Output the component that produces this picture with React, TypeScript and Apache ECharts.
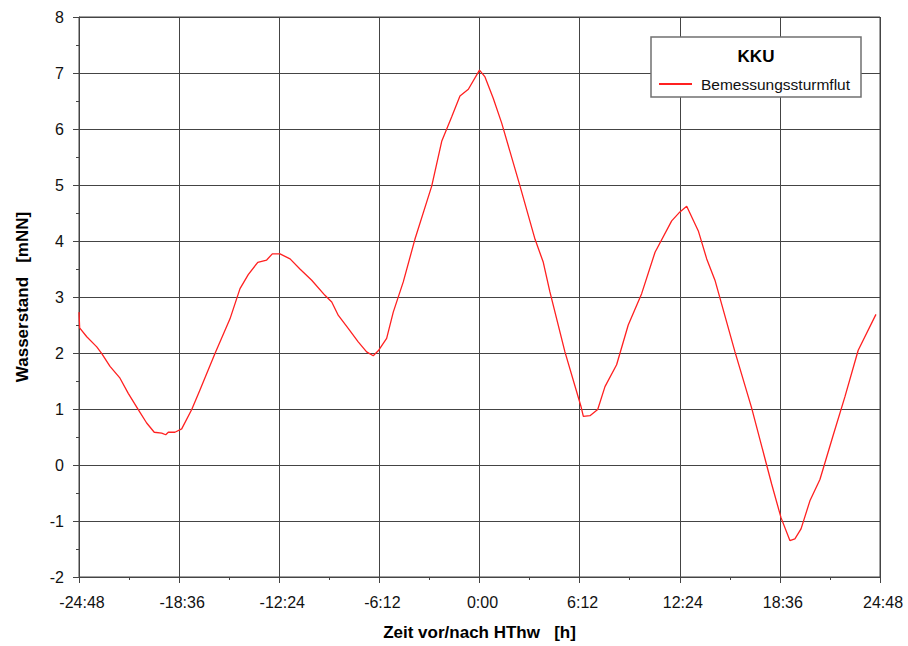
import React, { useEffect, useRef } from "react";
import * as echarts from "echarts";

// Time relative to high water (hours) and water level (m NN)
const hours: number[] = [
  -24.8, -24.76, -24.32, -23.7, -23.39, -22.88, -22.26, -21.75, -21.13, -20.61,
  -20.14, -19.68, -19.43, -19.27, -18.86, -18.44, -17.82, -17.31, -16.38, -15.45,
  -14.83, -14.32, -13.73, -13.18, -12.83, -12.35, -11.73, -11.12, -10.39, -9.57,
  -9.15, -8.74, -8.13, -7.51, -6.99, -6.58, -6.27, -5.75, -5.34, -4.72,
  -4.0, -2.96, -2.34, -1.72, -1.21, -0.69, 0.0, 0.34, 0.85, 1.37,
  2.51, 3.44, 3.95, 4.36, 5.29, 6.28, 6.43, 6.84, 7.32, 7.77,
  8.49, 9.21, 10.04, 10.87, 11.9, 12.41, 12.83, 13.55, 14.07, 14.58,
  15.82, 16.85, 18.09, 18.67, 19.22, 19.53, 19.91, 20.46, 21.08, 21.91,
  22.63, 23.45, 24.55,
];
const waterLevel: number[] = [
  2.73, 2.45, 2.29, 2.11, 1.99, 1.76, 1.55, 1.28, 0.99, 0.75,
  0.585, 0.57, 0.54, 0.585, 0.585, 0.645, 0.99, 1.34, 1.99, 2.61,
  3.15, 3.4, 3.62, 3.66, 3.77, 3.77, 3.68, 3.5, 3.3, 3.03,
  2.91, 2.67, 2.44, 2.2, 2.02, 1.95, 2.04, 2.26, 2.73, 3.27,
  4.03, 4.98, 5.78, 6.22, 6.59, 6.71, 7.05, 6.93, 6.55, 6.11,
  4.98, 4.03, 3.62, 3.09, 2.02, 1.05, 0.87, 0.88, 0.99, 1.4,
  1.79, 2.5, 3.06, 3.8, 4.36, 4.52, 4.62, 4.18, 3.68, 3.3,
  2.02, 1.02, -0.34, -0.94, -1.35, -1.32, -1.14, -0.64, -0.26, 0.54,
  1.22, 2.05, 2.69,
];

const seriesName = "Bemessungssturmflut";
const legendTitle = "KKU";
const xAxisName = "Zeit vor/nach HThw   [h]";
const yAxisName = "Wasserstand   [mNN]";

const FONT = "'Liberation Sans', Arial, sans-serif";
const GRID_COLOR = "#444444";

function fmtTime(v: number): string {
  const totalMin = Math.round(Math.abs(v) * 60);
  const h = Math.floor(totalMin / 60);
  const m = totalMin % 60;
  return (v < 0 ? "-" : "") + h + ":" + (m < 10 ? "0" : "") + m;
}

export default function App() {
  const ref = useRef<HTMLDivElement>(null);

  useEffect(() => {
    if (!ref.current) return;
    const chart = echarts.init(ref.current, undefined, { renderer: "svg" });
    const data = hours.map((h, i) => [h, waterLevel[i]]);

    chart.setOption({
      animation: false,
      backgroundColor: "#ffffff",
      textStyle: { fontFamily: FONT },
      grid: {
        left: 79,
        right: 28,
        top: 17,
        bottom: 66,
        show: true,
        borderColor: GRID_COLOR,
        borderWidth: 1,
        backgroundColor: "transparent",
      },
      xAxis: {
        type: "value",
        min: -24.8,
        max: 24.8,
        interval: 6.2,
        name: xAxisName,
        nameLocation: "middle",
        nameGap: 47,
        nameTextStyle: { fontFamily: FONT, fontSize: 17, fontWeight: "bold", color: "#000" },
        axisLine: { show: true, onZero: false, lineStyle: { color: GRID_COLOR, width: 1 } },
        axisTick: { show: true, inside: false, length: 6, lineStyle: { color: GRID_COLOR } },
        minorTick: { show: true, splitNumber: 2, length: 3, lineStyle: { color: GRID_COLOR } },
        axisLabel: {
          formatter: (v: number) => fmtTime(v),
          fontFamily: FONT,
          fontSize: 16,
          color: "#111",
          margin: 17,
          padding: [0, 0, 0, 6],
          showMinLabel: true,
          showMaxLabel: true,
        },
        splitLine: { show: true, lineStyle: { color: GRID_COLOR, width: 1 } },
        minorSplitLine: { show: false },
      },
      yAxis: {
        type: "value",
        min: -2,
        max: 8,
        interval: 1,
        name: yAxisName,
        nameLocation: "middle",
        nameGap: 48,
        nameTextStyle: { fontFamily: FONT, fontSize: 17, fontWeight: "bold", color: "#000" },
        axisLine: { show: true, onZero: false, lineStyle: { color: GRID_COLOR, width: 1 } },
        axisTick: { show: true, inside: false, length: 6, lineStyle: { color: GRID_COLOR } },
        minorTick: { show: true, splitNumber: 2, length: 3, lineStyle: { color: GRID_COLOR } },
        axisLabel: { fontFamily: FONT, fontSize: 16, color: "#111", margin: 15 },
        splitLine: { show: true, lineStyle: { color: GRID_COLOR, width: 1 } },
      },
      legend: {
        show: true,
        left: 654,
        top: 71,
        orient: "horizontal",
        icon: "rect",
        itemWidth: 33,
        itemHeight: 2,
        padding: 5,
        textStyle: { fontFamily: FONT, fontSize: 15.5, color: "#111", padding: [0, 0, 0, 4] },
        data: [seriesName],
        z: 6,
      },
      graphic: [
        {
          type: "rect",
          z: 5,
          shape: { x: 651, y: 37, width: 210, height: 60 },
          style: { fill: "#ffffff", stroke: "#707070", lineWidth: 1.5 },
        },
        {
          type: "text",
          z: 6,
          x: 756,
          y: 56,
          style: {
            text: legendTitle,
            fontFamily: FONT,
            fontSize: 17,
            fontWeight: "bold",
            fill: "#000",
            textAlign: "center",
            textVerticalAlign: "middle",
          },
        },
      ],
      series: [
        {
          name: seriesName,
          type: "line",
          data,
          symbol: "none",
          showSymbol: false,
          smooth: false,
          lineStyle: { color: "#ff2020", width: 1.3 },
          itemStyle: { color: "#ff2020" },
          z: 3,
        },
      ],
    });

    return () => {
      chart.dispose();
    };
  }, []);

  return (
    <div
      ref={ref}
      style={{ position: "fixed", left: 0, top: 0, width: 908, height: 646, background: "#fff" }}
    />
  );
}
